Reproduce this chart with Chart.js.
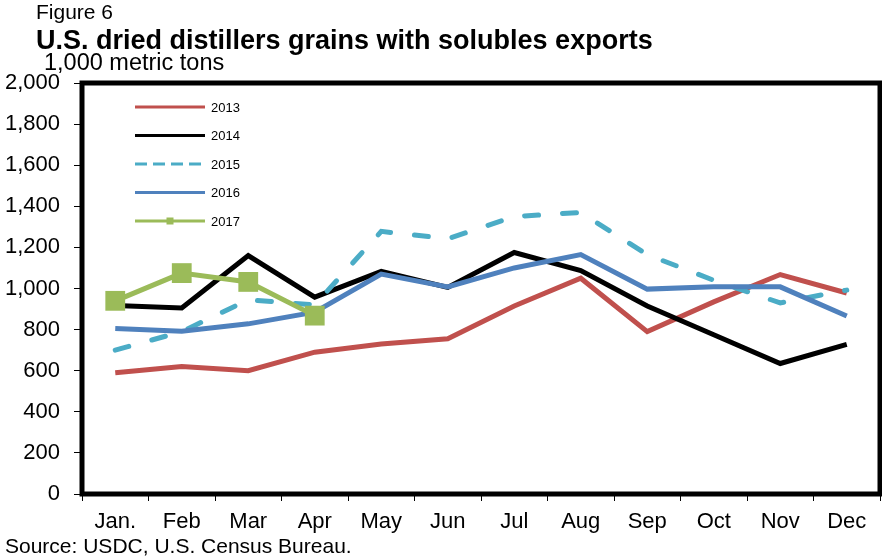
<!DOCTYPE html>
<html>
<head>
<meta charset="utf-8">
<script src="https://cdn.jsdelivr.net/npm/chart.js@4/dist/chart.umd.min.js"></script>
<style>
  html, body { margin: 0; padding: 0; background: #fff; }
  #wrap { position: relative; width: 882px; height: 559px; }
</style>
</head>
<body>
<div id="wrap"><canvas id="chart" width="882" height="559"></canvas></div>
<script>
// months on the x axis
const months = ["Jan.", "Feb", "Mar", "Apr", "May", "Jun", "Jul", "Aug", "Sep", "Oct", "Nov", "Dec"];

// 1,000 metric tons
const exports2013 = [590, 620, 600, 690, 730, 755, 915, 1050, 790, 935, 1068, 978];
const exports2014 = [917, 905, 1160, 958, 1083, 1005, 1175, 1087, 915, 775, 635, 728];
const exports2015 = [700, 790, 945, 920, 1278, 1242, 1350, 1370, 1165, 1040, 930, 992];
const exports2016 = [805, 792, 828, 885, 1070, 1008, 1100, 1165, 997, 1008, 1008, 866];
const exports2017 = [940, 1075, 1032, 868];

const yTicks = [0, 200, 400, 600, 800, 1000, 1200, 1400, 1600, 1800, 2000];

const FONT = "'Liberation Sans', Arial, sans-serif";

// headings, frame and the in-plot legend
const decorations = {
  id: "decorations",
  afterDraw(chart) {
    const ctx = chart.ctx;
    const area = chart.chartArea;
    ctx.save();

    // thick frame round the plot
    ctx.strokeStyle = "#000";
    ctx.lineWidth = 5;
    ctx.strokeRect(area.left, area.top, area.right - area.left, area.bottom - area.top);

    ctx.fillStyle = "#000";
    ctx.textBaseline = "alphabetic";
    ctx.textAlign = "left";
    ctx.font = "21px " + FONT;
    ctx.fillText("Figure 6", 36, 19);
    ctx.font = "bold 27px " + FONT;
    ctx.fillText("U.S. dried distillers grains with solubles exports", 36, 49);
    ctx.font = "23.5px " + FONT;
    ctx.fillText("1,000 metric tons", 44, 70);
    ctx.font = "21px " + FONT;
    ctx.fillText("Source: USDC, U.S. Census Bureau.", 5, 553);

    // legend
    const x0 = 135, x1 = 205;
    let y = 107;
    ctx.font = "13px " + FONT;
    ctx.textBaseline = "middle";
    chart.data.datasets.forEach(ds => {
      ctx.beginPath();
      ctx.strokeStyle = ds.borderColor;
      ctx.lineWidth = 3;
      ctx.lineCap = "butt";
      ctx.setLineDash(ds.borderDash ? [12, 6] : []);
      ctx.moveTo(x0, y);
      ctx.lineTo(x1, y);
      ctx.stroke();
      ctx.setLineDash([]);
      if (ds.pointRadius > 0) {
        ctx.fillStyle = ds.pointBackgroundColor;
        ctx.fillRect((x0 + x1) / 2 - 3.5, y - 3.5, 7, 7);
      }
      ctx.fillStyle = "#000";
      ctx.fillText(ds.label, 211, y + 1);
      y += 28.5;
    });
    ctx.restore();
  }
};

const lineSet = (label, data, color, order, extra) => Object.assign({
  label: label,
  data: data,
  borderColor: color,
  backgroundColor: color,
  borderWidth: 5,
  pointRadius: 0,
  tension: 0,
  fill: false,
  order: order
}, extra || {});

new Chart(document.getElementById("chart"), {
  type: "line",
  data: {
    labels: months,
    datasets: [
      lineSet("2013", exports2013, "#C0504D", 5),
      lineSet("2014", exports2014, "#000000", 4),
      lineSet("2015", exports2015, "#4BACC6", 3, { borderDash: [14, 24], borderCapStyle: "round" }),
      lineSet("2016", exports2016, "#4F81BD", 2),
      lineSet("2017", exports2017, "#9BBB59", 1, {
        pointRadius: 14,
        pointStyle: "rect",
        pointBackgroundColor: "#9BBB59",
        pointBorderWidth: 0
      })
    ]
  },
  options: {
    responsive: false,
    animation: false,
    layout: { autoPadding: false, padding: { top: 83, right: 2, left: 0, bottom: 0 } },
    plugins: {
      legend: { display: false },
      tooltip: { enabled: false }
    },
    scales: {
      x: {
        offset: true,
        border: { display: false },
        grid: {
          offset: true,
          drawOnChartArea: false,
          drawTicks: true,
          tickLength: 7,
          color: "#000",
          lineWidth: 1
        },
        ticks: {
          color: "#000",
          font: { family: FONT, size: 22 },
          padding: 8,
          maxRotation: 0,
          autoSkip: false
        },
        afterFit(scale) {
          scale.height = 559 - 494;
          scale.paddingLeft = 0;
          scale.paddingRight = 0;
        }
      },
      y: {
        min: 0,
        max: 2000,
        border: { display: false },
        afterBuildTicks(scale) { scale.ticks = yTicks.map(v => ({ value: v })); },
        grid: {
          drawOnChartArea: false,
          drawTicks: true,
          tickLength: 8,
          color: "#000",
          lineWidth: 1
        },
        ticks: {
          color: "#000",
          font: { family: FONT, size: 22 },
          padding: 14,
          callback: v => v.toLocaleString("en-US")
        },
        afterFit(scale) {
          scale.width = 82;
          scale.paddingTop = 0;
          scale.paddingBottom = 0;
        }
      }
    }
  },
  plugins: [decorations]
});
</script>
</body>
</html>
